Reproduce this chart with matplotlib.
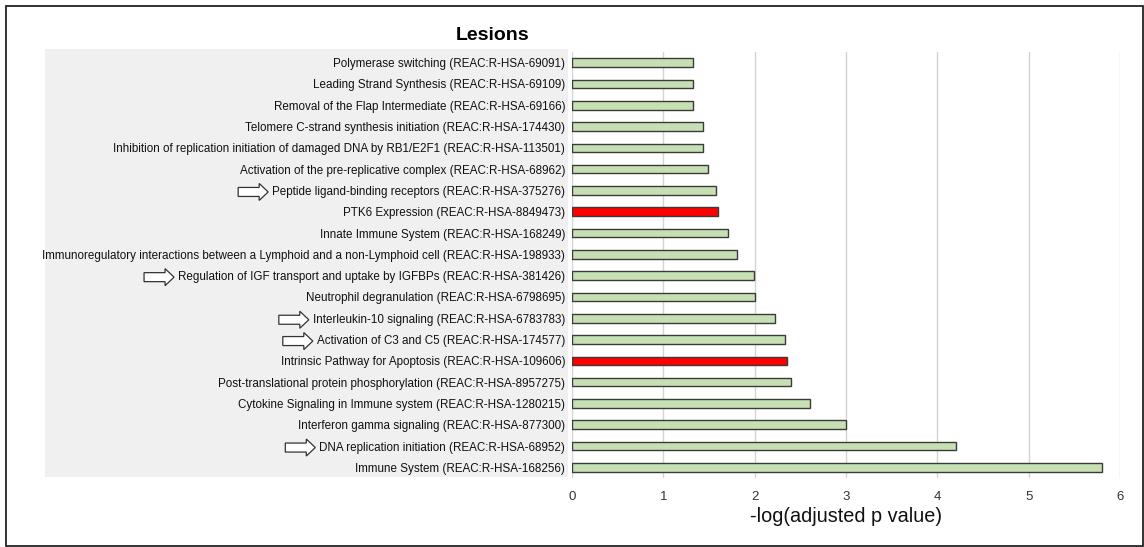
import matplotlib
matplotlib.use("Agg")
import matplotlib.pyplot as plt
from matplotlib.patches import Rectangle, FancyArrow

pathways = [
    "Polymerase switching (REAC:R-HSA-69091)",
    "Leading Strand Synthesis (REAC:R-HSA-69109)",
    "Removal of the Flap Intermediate (REAC:R-HSA-69166)",
    "Telomere C-strand synthesis initiation (REAC:R-HSA-174430)",
    "Inhibition of replication initiation of damaged DNA by RB1/E2F1 (REAC:R-HSA-113501)",
    "Activation of the pre-replicative complex (REAC:R-HSA-68962)",
    "Peptide ligand-binding receptors (REAC:R-HSA-375276)",
    "PTK6 Expression (REAC:R-HSA-8849473)",
    "Innate Immune System (REAC:R-HSA-168249)",
    "Immunoregulatory interactions between a Lymphoid and a non-Lymphoid cell (REAC:R-HSA-198933)",
    "Regulation of IGF transport and uptake by IGFBPs (REAC:R-HSA-381426)",
    "Neutrophil degranulation (REAC:R-HSA-6798695)",
    "Interleukin-10 signaling (REAC:R-HSA-6783783)",
    "Activation of C3 and C5 (REAC:R-HSA-174577)",
    "Intrinsic Pathway for Apoptosis (REAC:R-HSA-109606)",
    "Post-translational protein phosphorylation (REAC:R-HSA-8957275)",
    "Cytokine Signaling in Immune system (REAC:R-HSA-1280215)",
    "Interferon gamma signaling (REAC:R-HSA-877300)",
    "DNA replication initiation (REAC:R-HSA-68952)",
    "Immune System (REAC:R-HSA-168256)",
]
neg_log_p = [1.33, 1.33, 1.33, 1.43, 1.43, 1.49, 1.58, 1.60, 1.71, 1.81,
             1.99, 2.00, 2.22, 2.33, 2.35, 2.40, 2.61, 3.00, 4.20, 5.80]
highlighted = ["PTK6 Expression (REAC:R-HSA-8849473)",
               "Intrinsic Pathway for Apoptosis (REAC:R-HSA-109606)"]
arrowed = ["Peptide ligand-binding receptors (REAC:R-HSA-375276)",
           "Regulation of IGF transport and uptake by IGFBPs (REAC:R-HSA-381426)",
           "Interleukin-10 signaling (REAC:R-HSA-6783783)",
           "Activation of C3 and C5 (REAC:R-HSA-174577)",
           "DNA replication initiation (REAC:R-HSA-68952)"]
xticks = [0, 1, 2, 3, 4, 5, 6]

plt.rcParams['font.family'] = ['Liberation Sans', 'DejaVu Sans']
W, H = 1144, 547
fig = plt.figure(figsize=(W/100, H/100), dpi=100)

# outer border
fig.patches.append(Rectangle((6/W, 1/H), (1143-6)/W, (546-6)/H, transform=fig.transFigure,
                             fill=False, edgecolor='#222222', linewidth=1.3, zorder=-2))
# grey label panel
fig.patches.append(Rectangle((45/W, 1-477/H), (568-45)/W, (477-49)/H, transform=fig.transFigure,
                             facecolor='#f0f0f0', edgecolor='none', zorder=-2))

ax = fig.add_axes([572/W, 1-478/H, (1120-572)/W, (478-52)/H])
ax.set_facecolor('none')
y = list(range(len(pathways)))
colors = ['#ff0000' if p in highlighted else '#c6e0b4' for p in pathways]
ax.barh(y, neg_log_p, height=0.4, color=colors, edgecolor='#3a3a3a', linewidth=1.0, zorder=3)
ax.set_ylim(len(pathways) - 0.5, -0.5)
ax.set_xlim(0, 6)
ax.set_xticks(xticks)
ax.set_xticklabels([str(t) for t in xticks], fontsize=9.5, color='#333333')
ax.set_yticks(y)
ax.set_yticklabels(pathways, fontsize=8.35, color='#111111')
ax.tick_params(axis='y', length=0, pad=5)
ax.tick_params(axis='x', length=0, pad=9)
ax.grid(axis='x', color='#d4d4d4', linewidth=1.0, zorder=0)
for s in ax.spines.values():
    s.set_visible(False)
ax.set_xlabel("-log(adjusted p value)", fontsize=14.3, color='#111111', labelpad=3)
fig.text(493/W, 1-35/H, "Lesions", fontsize=14, fontweight='bold', ha='center', va='center')

fig.canvas.draw()
renderer = fig.canvas.get_renderer()
for lab in ax.get_yticklabels():
    if lab.get_text() in arrowed:
        bb = lab.get_window_extent(renderer)
        x_end = bb.x0 - 4
        yc = (bb.y0 + bb.y1) / 2
        length = 30
        fig.patches.append(FancyArrow(
            (x_end - length)/W, yc/H, length/W, 0, width=9/H, head_width=17/H,
            head_length=9/W, length_includes_head=True, transform=fig.transFigure,
            facecolor='white', edgecolor='#333333', linewidth=0.9, zorder=5))

fig.savefig("out.png", dpi=100)
